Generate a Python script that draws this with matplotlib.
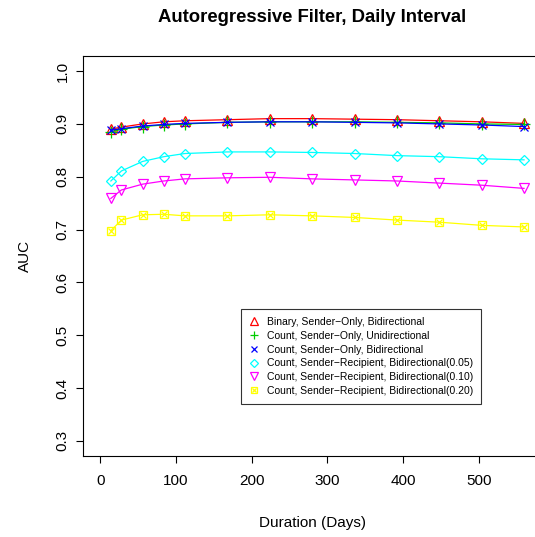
import matplotlib
matplotlib.use('Agg')
import matplotlib.pyplot as plt
from matplotlib.legend_handler import HandlerTuple

plt.rcParams['font.family'] = ['Liberation Sans', 'DejaVu Sans']

# duration in days
days = [14, 28, 56, 84, 112, 168, 224, 280, 336, 392, 448, 504, 560]

auc_bin_so_bi = [0.890, 0.894, 0.900, 0.904, 0.906, 0.908, 0.910, 0.910, 0.909, 0.908, 0.906, 0.904, 0.901]
auc_cnt_so_uni = [0.885, 0.890, 0.895, 0.898, 0.900, 0.903, 0.904, 0.904, 0.904, 0.903, 0.902, 0.900, 0.899]
auc_cnt_so_bi = [0.888, 0.891, 0.896, 0.899, 0.901, 0.903, 0.904, 0.904, 0.903, 0.902, 0.900, 0.898, 0.895]
auc_cnt_sr_05 = [0.792, 0.811, 0.829, 0.838, 0.844, 0.847, 0.847, 0.846, 0.844, 0.840, 0.838, 0.834, 0.832]
auc_cnt_sr_10 = [0.759, 0.775, 0.786, 0.792, 0.796, 0.798, 0.799, 0.796, 0.794, 0.792, 0.788, 0.784, 0.778]
auc_cnt_sr_20 = [0.698, 0.718, 0.728, 0.729, 0.726, 0.726, 0.728, 0.726, 0.723, 0.718, 0.714, 0.708, 0.705]

labels = ['Binary, Sender\u2212Only, Bidirectional',
          'Count, Sender\u2212Only, Unidirectional',
          'Count, Sender\u2212Only, Bidirectional',
          'Count, Sender\u2212Recipient, Bidirectional(0.05)',
          'Count, Sender\u2212Recipient, Bidirectional(0.10)',
          'Count, Sender\u2212Recipient, Bidirectional(0.20)']

fig = plt.figure(figsize=(5.35, 5.37), dpi=100)
ax = fig.add_axes([83.3 / 535, 1 - 455.7 / 537, (541 - 83.3) / 535, (455.7 - 56.3) / 537])

mew = 0.9
lw = 0.9

# (values, colour, marker, size)
series = [
    (auc_bin_so_bi, '#FF0000', '^', 7),
    (auc_cnt_so_uni, '#00CD00', '+', 8),
    (auc_cnt_so_bi, '#0000FF', 'x', 5.5),
    (auc_cnt_sr_05, '#00FFFF', 'D', 5.5),
    (auc_cnt_sr_10, '#FF00FF', 'v', 7),
    (auc_cnt_sr_20, '#FFFF00', 's', 5.5),
]

leg_handles = []
for vals, col, mk, sz in series:
    ax.plot(days, vals, color=col, lw=lw, marker=mk, ms=sz, mfc='none', mew=mew)
    lh = plt.Line2D([], [], color=col, lw=0, marker=mk, ms=sz * 0.75, mfc='none', mew=mew)
    if mk == 's':
        ax.plot(days, vals, color=col, lw=0, marker='x', ms=sz - 1, mew=mew)
        lx = plt.Line2D([], [], color=col, lw=0, marker='x', ms=(sz - 1) * 0.75, mew=mew)
        leg_handles.append((lh, lx))
    else:
        leg_handles.append(lh)

ax.set_xlim(-22.4, 582.4)
ax.set_ylim(0.272, 1.028)
ax.set_xticks([0, 100, 200, 300, 400, 500])
ax.set_yticks([0.3, 0.4, 0.5, 0.6, 0.7, 0.8, 0.9, 1.0])
ax.set_yticklabels(['0.3', '0.4', '0.5', '0.6', '0.7', '0.8', '0.9', '1.0'], rotation=90, va='center')
ax.tick_params(direction='out', length=5, width=0.8, labelsize=11)
ax.tick_params(axis='x', pad=8)
ax.tick_params(axis='y', pad=5)
for s in ax.spines.values():
    s.set_linewidth(0.8)

ax.set_xlabel('Duration (Days)', fontsize=11, labelpad=20)
ax.set_ylabel('AUC', fontsize=11, labelpad=17)
fig.text(312 / 535, 1 - 18 / 537, 'Autoregressive Filter, Daily Interval',
         ha='center', va='center', fontsize=13.3, fontweight='bold')

leg = ax.legend(leg_handles, labels, loc='upper left',
                bbox_to_anchor=(241 / 535, 1 - 309.3 / 537), bbox_transform=fig.transFigure,
                fontsize=7.5, frameon=True, fancybox=False, edgecolor='black',
                handlelength=1.0, handletextpad=0.7, labelspacing=0.36, borderpad=0.75,
                borderaxespad=0, handler_map={tuple: HandlerTuple(ndivide=1, pad=0)})
leg.get_frame().set_linewidth(0.8)

fig.savefig('out.png', dpi=100)
